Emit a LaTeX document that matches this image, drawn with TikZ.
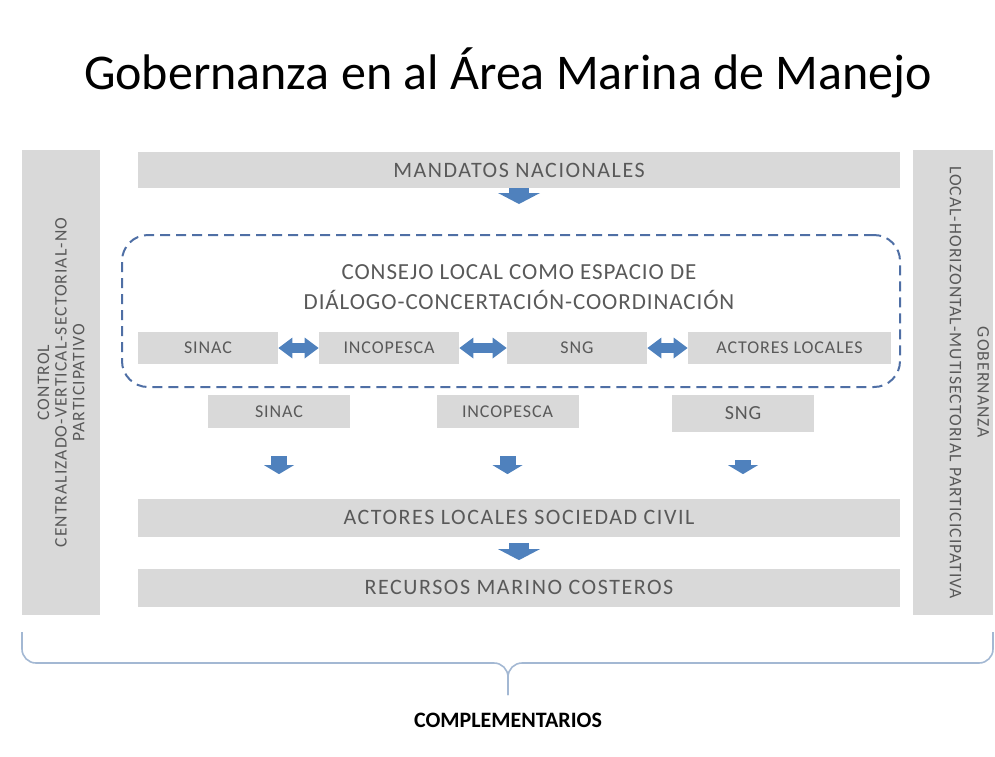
\documentclass[tikz,border=0pt]{standalone}
\usepackage{fontspec}
\setmainfont{Carlito}
\usetikzlibrary{arrows.meta}
\definecolor{boxgray}{HTML}{D9D9D9}
\definecolor{labelgray}{HTML}{595959}
\definecolor{arrowblue}{HTML}{4F81BD}
\definecolor{dashblue}{HTML}{4F6FA5}
\definecolor{bracecol}{HTML}{A3B8D3}

\begin{document}
\begin{tikzpicture}[x=0.5pt, y=-0.5pt,
    bigbox/.style={fill=boxgray, text=labelgray, minimum width=381pt, minimum height=19pt, inner sep=0pt, font=\fontsize{11}{13}\selectfont\addfontfeatures{LetterSpace=7}},
    smallbox/.style={fill=boxgray, text=labelgray, minimum width=70pt, minimum height=16pt, inner sep=0pt, font=\fontsize{9}{11}\selectfont\addfontfeatures{LetterSpace=5}},
    sidebox/.style={fill=boxgray, text=labelgray, minimum width=232.5pt, minimum height=39pt, inner sep=0pt, align=center, font=\fontsize{8.8}{8.8}\selectfont\addfontfeatures{LetterSpace=6}},
    downarrow/.style={arrowblue, line width=10pt, -{Triangle[width=21pt,length=5.5pt,line width=0pt]}},
    smallarrow/.style={arrowblue, line width=8pt, -{Triangle[width=15pt,length=4.5pt,line width=0pt]}},
    botharrow/.style={arrowblue, line width=5pt, {Triangle[width=10.5pt,length=7pt,line width=0pt]}-{Triangle[width=10.5pt,length=7pt,line width=0pt]}},
    braceline/.style={bracecol, line width=0.8pt, rounded corners=7pt}]

    \useasboundingbox (0,0) rectangle (995,756);

    % Title
    \node (title) at (508,73) {\fontsize{25}{30}\selectfont Gobernanza en al Área Marina de Manejo};

    % Side bars
    \node[sidebox, rotate=90] (control) at (61,382.5) {CONTROL\\CENTRALIZADO-VERTICAL-SECTORIAL-NO\\PARTICIPATIVO};
    \node[sidebox, rotate=-90, minimum height=40pt] (gobernanza) at (953,382.5) {GOBERNANZA\\[5pt]LOCAL-HORIZONTAL-MUTISECTORIAL PARTICICIPATIVA\\[5pt]\strut};

    % Central column
    \node[bigbox, minimum height=18pt] (mandatos) at (519,170) {MANDATOS NACIONALES};
    \node[draw=dashblue, line width=1pt, dash pattern=on 5pt off 3pt, rounded corners=13pt, minimum width=389pt, minimum height=76pt] (consejo) at (511,311) {};
    \node[text=labelgray, align=center, font=\fontsize{11.5}{15}\selectfont\addfontfeatures{LetterSpace=4}] (consejotxt) at (519,287) {CONSEJO LOCAL COMO ESPACIO DE\\DIÁLOGO-CONCERTACIÓN-COORDINACIÓN};

    % Inside the council
    \node[smallbox] (sinacA) at (208,348) {SINAC};
    \node[smallbox] (incoA) at (389,348) {INCOPESCA};
    \node[smallbox] (sngA) at (577,348) {SNG};
    \node[smallbox, minimum width=101.5pt] (actA) at (789.5,348) {ACTORES LOCALES};
    \foreach \a/\b in {sinacA/incoA, incoA/sngA, sngA/actA}
        \draw[botharrow] (\a) -- (\b);

    % Institutions
    \node[smallbox, minimum width=71pt, minimum height=16.5pt] (sinacB) at (279,411.5) {SINAC};
    \node[smallbox, minimum width=71pt, minimum height=16.5pt] (incoB) at (507.5,411.5) {INCOPESCA};
    \node[smallbox, minimum width=71pt, minimum height=18.5pt, font=\fontsize{10}{12}\selectfont\addfontfeatures{LetterSpace=4}] (sngB) at (743,413.5) {SNG};

    \node[bigbox] (actores) at (519,517.5) {ACTORES LOCALES SOCIEDAD CIVIL};
    \node[bigbox] (recursos) at (519,587.5) {RECURSOS MARINO COSTEROS};

    % Arrows
    \draw[downarrow, shorten >=15pt] (mandatos.south) -- (mandatos.south |- consejo.north);
    \foreach \n in {sinacB, incoB, sngB}
        \draw[smallarrow, shorten <=14pt, shorten >=12pt] (\n.south) -- (\n.south |- actores.north);
    \draw[downarrow, shorten <=3pt, shorten >=4pt] (actores) -- (recursos);

    % Brace
    \coordinate (braceL) at (22,632);
    \coordinate (braceR) at (993,632);
    \coordinate (braceMid) at (508,663);
    \coordinate (braceTip) at (508,695);
    \draw[braceline] (braceL) |- (braceMid) -- (braceTip);
    \draw[braceline] (braceR) |- (braceMid) -- (braceTip);
    \node[font=\bfseries\fontsize{11}{13}\selectfont] (compl) at (508,720) {COMPLEMENTARIOS};
\end{tikzpicture}
\end{document}
